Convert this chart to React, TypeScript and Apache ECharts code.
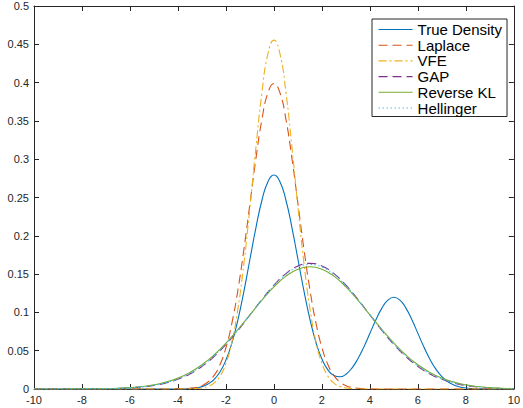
import React, { useEffect, useRef } from "react";
import * as echarts from "echarts";

// x grids
const xFine = [
  -10, -9.75, -9.5, -9.25, -9, -8.75, -8.5, -8.25, -8, -7.75, -7.5, -7.25, -7, -6.75, -6.5, -6.25,
  -6, -5.75, -5.5, -5.25, -5, -4.75, -4.5, -4.25, -4, -3.75, -3.5, -3.25, -3, -2.75, -2.5, -2.25,
  -2, -1.75, -1.5, -1.25, -1, -0.75, -0.5, -0.25, 0, 0.25, 0.5, 0.75, 1, 1.25, 1.5, 1.75,
  2, 2.25, 2.5, 2.75, 3, 3.25, 3.5, 3.75, 4, 4.25, 4.5, 4.75, 5, 5.25, 5.5, 5.75,
  6, 6.25, 6.5, 6.75, 7, 7.25, 7.5, 7.75, 8, 8.25, 8.5, 8.75, 9, 9.25, 9.5, 9.75, 10,
];
const xWide = [
  -10, -9.5, -9, -8.5, -8, -7.5, -7, -6.5, -6, -5.5, -5, -4.5, -4, -3.5, -3, -2.5, -2, -1.5, -1, -0.5,
  0, 0.5, 1, 1.5, 2, 2.5, 3, 3.5, 4, 4.5, 5, 5.5, 6, 6.5, 7, 7.5, 8, 8.5, 9, 9.5, 10,
];

// values on xFine
const trueDensity = [
  0, 0, 0, 0, 0, 0, 0, 0, 0, 0, 0, 0, 0, 0, 0, 0, 0, 0, 0, 0, 0, 0, 0, 0,
  0.0001, 0.0002, 0.0006, 0.0014, 0.0031, 0.0064, 0.0123, 0.0222,
  0.0378, 0.0604, 0.0907, 0.1279, 0.1694, 0.2108, 0.2464, 0.2707,
  0.2793,
  0.2707, 0.2464, 0.2108, 0.1694, 0.128, 0.091, 0.061, 0.0391,
  0.0249, 0.0176, 0.0159, 0.0193, 0.0273, 0.0395, 0.055, 0.0727,
  0.0903, 0.1056, 0.116, 0.1197, 0.116, 0.1056, 0.0903, 0.0726,
  0.0548, 0.0389, 0.0259, 0.0162, 0.0095, 0.0053, 0.0027, 0.0013,
  0.0006, 0.0003, 0.0001, 0, 0, 0, 0, 0,
];
const laplace = [
  0, 0, 0, 0, 0, 0, 0, 0, 0, 0, 0, 0, 0, 0, 0, 0, 0, 0, 0, 0, 0, 0, 0, 0,
  0.0001, 0.0004, 0.0009, 0.002, 0.0044, 0.0091, 0.0175, 0.0317,
  0.054, 0.0863, 0.1295, 0.1827, 0.242, 0.3011, 0.3521, 0.3867,
  0.3989,
  0.3867, 0.3521, 0.3011, 0.242, 0.1827, 0.1295, 0.0863, 0.054,
  0.0317, 0.0175, 0.0091, 0.0044, 0.002, 0.0009, 0.0004, 0.0001,
  0, 0, 0, 0, 0, 0, 0, 0, 0, 0, 0, 0, 0, 0, 0, 0, 0, 0, 0, 0, 0, 0, 0, 0,
];
const vfe = [
  0, 0, 0, 0, 0, 0, 0, 0, 0, 0, 0, 0, 0, 0, 0, 0, 0, 0, 0, 0, 0, 0, 0, 0,
  0, 0, 0.0002, 0.0005, 0.0013, 0.0033, 0.0077, 0.0167,
  0.0335, 0.0617, 0.1049, 0.1644, 0.2373, 0.3158, 0.3872, 0.4377,
  0.4555,
  0.4377, 0.3872, 0.3158, 0.2373, 0.1644, 0.1049, 0.0617, 0.0335,
  0.0167, 0.0077, 0.0033, 0.0013, 0.0005, 0.0002, 0, 0,
  0, 0, 0, 0, 0, 0, 0, 0, 0, 0, 0, 0, 0, 0, 0, 0, 0, 0, 0, 0, 0, 0, 0, 0,
];

// values on xWide
const gap = [
  0, 0, 0, 0, 0.0001, 0.0002, 0.0004, 0.0007, 0.0014, 0.0026, 0.0046, 0.0078, 0.0127, 0.0197,
  0.0295, 0.0423, 0.0581, 0.0765, 0.0966, 0.1169, 0.1356, 0.1507, 0.1606, 0.164,
  0.1606, 0.1507, 0.1356, 0.1169, 0.0966, 0.0765, 0.0581, 0.0423, 0.0295, 0.0197, 0.0127,
  0.0078, 0.0046, 0.0026, 0.0014, 0.0007, 0.0004,
];
const reverseKL = [
  0, 0, 0, 0.0001, 0.0001, 0.0002, 0.0005, 0.001, 0.0018, 0.0032, 0.0054, 0.009, 0.0142, 0.0216,
  0.0316, 0.0444, 0.0599, 0.0777, 0.0968, 0.1159, 0.1333, 0.1473, 0.1564, 0.1596,
  0.1564, 0.1473, 0.1333, 0.1159, 0.0968, 0.0777, 0.0599, 0.0444, 0.0316, 0.0216, 0.0142,
  0.009, 0.0054, 0.0032, 0.0018, 0.001, 0.0005,
];
const hellinger = [
  0, 0, 0, 0, 0.0001, 0.0002, 0.0004, 0.0008, 0.0015, 0.0028, 0.0049, 0.0082, 0.0132, 0.0204,
  0.0303, 0.0431, 0.0588, 0.077, 0.0967, 0.1166, 0.1348, 0.1496, 0.1592, 0.1625,
  0.1592, 0.1496, 0.1348, 0.1166, 0.0967, 0.077, 0.0588, 0.0431, 0.0303, 0.0204, 0.0132,
  0.0082, 0.0049, 0.0028, 0.0015, 0.0008, 0.0004,
];

const seriesNames = ["True Density", "Laplace", "VFE", "GAP", "Reverse KL", "Hellinger"];
const seriesColors = ["#0072BD", "#D95319", "#EDB120", "#7E2F8E", "#77AC30", "#4DBEEE"];

const xTicks = { min: -10, max: 10, interval: 2 };
const yTicks = { min: 0, max: 0.5, interval: 0.05 };

const pairs = (xs: number[], ys: number[]) => xs.map((x, i) => [x, ys[i]]);

export default function App() {
  const ref = useRef<HTMLDivElement>(null);
  useEffect(() => {
    if (!ref.current) return;
    const chart = echarts.init(ref.current, undefined, { renderer: "svg" });
    const axisColor = "#262626";
    const font = "'Liberation Sans', Arial, Helvetica, sans-serif";
    const dashTypes: any[] = ["solid", [9, 5], [8, 3, 2, 3], [9, 5], "solid", [1.5, 2.5]];
    const dataSets = [
      pairs(xFine, trueDensity),
      pairs(xFine, laplace),
      pairs(xFine, vfe),
      pairs(xWide, gap),
      pairs(xWide, reverseKL),
      pairs(xWide, hellinger),
    ];
    chart.setOption({
      animation: false,
      backgroundColor: "#ffffff",
      textStyle: { fontFamily: font },
      grid: { left: 34, right: 6, top: 6, bottom: 19, containLabel: false },
      legend: {
        orient: "vertical",
        left: 372,
        top: 19,
        padding: [3, 5, 1, 6],
        itemGap: 0.7,
        itemWidth: 34,
        itemHeight: 14,
        borderColor: axisColor,
        borderWidth: 1,
        backgroundColor: "#ffffff",
        selectedMode: false,
        itemStyle: { opacity: 0, color: "transparent", borderColor: "transparent", borderWidth: 0 },
        lineStyle: { width: 1.1 },
        textStyle: { fontSize: 15, color: "#000", fontFamily: font, lineHeight: 14, padding: [0, 0, 0, 0] },
        data: seriesNames,
      },
      xAxis: [
        {
          type: "value",
          ...xTicks,
          position: "bottom",
          axisLine: { show: true, onZero: false, lineStyle: { color: axisColor, width: 1 } },
          axisTick: { show: true, inside: true, length: 5, lineStyle: { color: axisColor } },
          axisLabel: { show: true, color: axisColor, fontSize: 11, margin: 5, fontFamily: font },
          splitLine: { show: false },
        },
        {
          type: "value",
          ...xTicks,
          position: "top",
          axisLine: { show: true, onZero: false, lineStyle: { color: axisColor, width: 1 } },
          axisTick: { show: true, inside: true, length: 5, lineStyle: { color: axisColor } },
          axisLabel: { show: false },
          splitLine: { show: false },
        },
      ],
      yAxis: [
        {
          type: "value",
          ...yTicks,
          position: "left",
          axisLine: { show: true, onZero: false, lineStyle: { color: axisColor, width: 1 } },
          axisTick: { show: true, inside: true, length: 5, lineStyle: { color: axisColor } },
          axisLabel: {
            show: true,
            color: axisColor,
            fontSize: 11,
            margin: 5,
            fontFamily: font,
            formatter: (v: number) => String(parseFloat(v.toFixed(2))),
          },
          splitLine: { show: false },
        },
        {
          type: "value",
          ...yTicks,
          position: "right",
          axisLine: { show: true, onZero: false, lineStyle: { color: axisColor, width: 1 } },
          axisTick: { show: true, inside: true, length: 5, lineStyle: { color: axisColor } },
          axisLabel: { show: false },
          splitLine: { show: false },
        },
      ],
      series: seriesNames.map((name, i) => ({
        name,
        type: "line",
        xAxisIndex: 0,
        yAxisIndex: 0,
        data: dataSets[i],
        smooth: 0.5,
        symbol: "none",
        showSymbol: false,
        color: seriesColors[i],
        lineStyle: { color: seriesColors[i], width: 1.1, type: dashTypes[i] },
        emphasis: { disabled: true },
      })),
    });
    return () => chart.dispose();
  }, []);
  return (
    <div
      ref={ref}
      style={{ position: "fixed", left: 0, top: 0, width: 523, height: 408, background: "#fff" }}
    />
  );
}
